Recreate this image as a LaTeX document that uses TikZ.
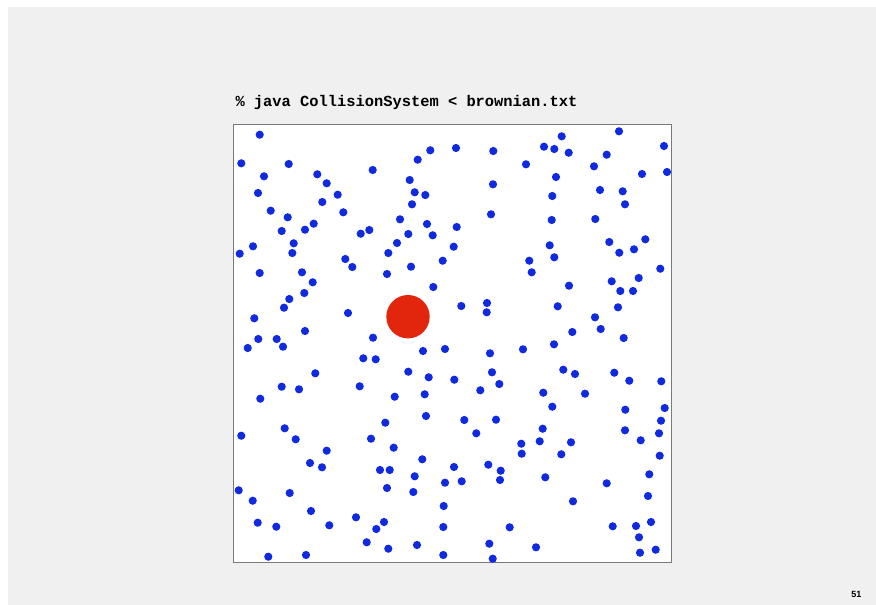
\documentclass[tikz,border=0pt]{standalone}
\usepackage{fontspec}
\newfontfamily\codefont{Liberation Mono}
\newfontfamily\numfont{Liberation Sans}
\definecolor{slidebg}{HTML}{F0F0F0}
\definecolor{dotblue}{RGB}{16,42,224}
\definecolor{bigred}{RGB}{226,38,14}
\definecolor{frameg}{HTML}{7A7A7A}
\begin{document}
\begin{tikzpicture}[x=1pt,y=-1pt,
  particle/.style={fill=dotblue,draw=none},
  heavy/.style={fill=bigred,draw=none}]
\useasboundingbox (0,0) rectangle (876,605);
\fill[white] (0,0) rectangle (876,605);
\fill[slidebg] (8,7) rectangle (876,605);
\node[anchor=base west,inner sep=0pt,font=\codefont\bfseries\fontsize{15.4}{18}\selectfont] (title) at (235.3,106.3) {\% java CollisionSystem < brownian.txt};
\fill[white] (233,124.3) rectangle (671.3,562);
\draw[frameg,line width=0.8pt] (233,124.3) rectangle (671.3,562);
\foreach \x/\y in {
259.7/134.7, 241.3/163.3, 288.7/164, 264/176.3, 317.3/174.3, 326.7/183.3, 372.7/170, 430.3/150.3,
417.7/159.7, 409.7/180, 414.7/192.3, 425.3/195, 412/204.3, 258/193, 337.7/194.7, 322.3/202,
270.7/210.7, 287.7/217.3, 343.3/212.3, 281.7/231, 305/229.7, 313.7/223.7, 360.7/233.7, 369.3/230,
400/219.3, 427/224, 408.3/234, 432.7/235.3, 253/246.3, 239.7/253.7, 293.7/243.3, 292.3/253,
397/243, 388.3/253, 345.3/259, 352.3/267, 411/266.7, 442.7/260.7, 387/274, 259.7/273,
302/272.3, 312.7/282.3, 304.3/293, 433.3/287, 289.3/299, 284/307.7, 348/313, 254.3/318.3,
305/331, 373/337.7, 258.3/339, 276.7/339,
456/148, 493.3/151, 526/164.3, 544/146.7, 554.3/149, 561.7/136.3, 568.7/152.7, 619/131.3,
664/146, 606.7/154.7, 594/166.3, 642/174, 667/172, 556/177, 493/184.3, 552.3/196,
600/190, 622.7/191.3, 625/204.3, 491/214.3, 551.7/220, 595.3/219, 456.7/227, 453.7/246.7,
549.7/245.3, 554.3/257.3, 609.3/242, 645.3/239.3, 619.3/252.7, 634/249.3, 529.3/260.7, 531.7/272.3,
660.3/268.7, 569/285.7, 611.7/281.3, 638.7/278, 620.3/291, 633/291, 461.3/306, 487/303,
486.7/312.3, 557.7/306.3, 618/307.3, 595/317.3, 600.7/329, 572.3/332, 623.7/338,
247.7/348, 283/346.7, 363.3/358.3, 375.7/359.3, 423/351, 445/349, 315.3/373.3, 408.3/371.7,
428.7/377.3, 281.7/386.7, 299/389.3, 359.7/386.3, 394.7/396.7, 424.7/394.3, 260.3/398.7, 385.3/422.7,
426/416, 241.3/435.7, 284.7/428.3, 295.7/439.3, 371/438.7, 393.7/447.7, 326.7/450.7, 310/463,
322/467.3, 422.3/459.3, 380/470, 389.7/470, 414.7/476.3, 238.7/490.3, 252.7/500.7, 289.7/493,
387/488, 413.3/492, 445/482.7, 443.7/506, 311/511, 257.7/522.7, 276.3/526.7, 329.3/525.3,
356/517.3, 384/522, 376.3/529, 443.3/527, 366.7/542.3, 388.3/548.7, 417/545, 268.3/556.7,
306/555, 443.3/555,
490/353.3, 523/349.3, 554/344.3, 454.3/379.7, 492/372.3, 499.3/384, 480.3/390.3, 563.3/369.7,
575/374, 614.3/372.7, 629.3/380.7, 661.3/381.3, 543.3/392.7, 585/393.7, 552.3/406.7, 625.3/409.7,
664.7/408, 464.3/420, 496/419.7, 476.3/433.3, 542.7/428.7, 661/420.7, 659/433.3, 625/430.3,
640.7/440.3, 521.3/443.7, 521.7/453.7, 539.7/441.3, 571/442.3, 561.3/454.3, 659.7/455.7, 454/467,
488.3/464.7, 500.7/470.7, 500/480, 461.7/481.3, 545.3/477.3, 606.7/483.3, 649.3/474.3, 648/496,
573/501.3, 509.7/527.3, 489.3/543.7, 492.7/558.7, 536/547.3, 612.7/526.3, 636/526, 651/522,
639/537.3, 640/552.7, 655.7/549.7}
  \fill[particle] (\x,\y) circle[radius=4.1];
\fill[heavy] (408,316.7) circle[radius=21.7];
\node[anchor=base east,inner sep=0pt,font=\numfont\bfseries\fontsize{9}{10}\selectfont] (pagenum) at (861.5,597.3) {51};
\end{tikzpicture}
\end{document}
